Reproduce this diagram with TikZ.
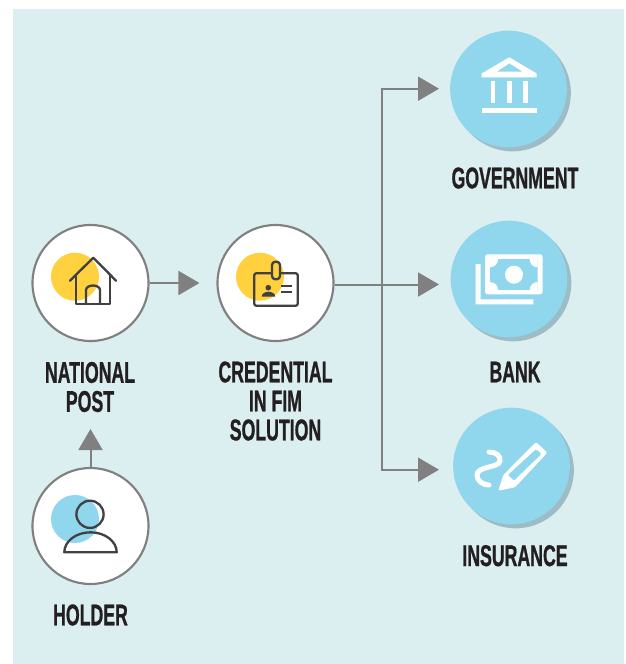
\documentclass[tikz,border=0pt]{standalone}
\usepackage{fontspec}
\usetikzlibrary{arrows.meta}
\newfontfamily\labelfont[FakeStretch=0.59, BoldFeatures={FakeBold=0.8}]{Liberation Sans}
\definecolor{panel}{HTML}{DCEFF0}
\definecolor{flowgrey}{HTML}{808080}
\definecolor{sunny}{HTML}{FFD13F}
\definecolor{sky}{HTML}{90D7EE}
\definecolor{skyshadow}{HTML}{9DBCC6}
\definecolor{iconline}{HTML}{414042}
\definecolor{labeltext}{HTML}{231F20}

\begin{document}
\begin{tikzpicture}[x=0.75pt, y=-0.75pt,
        flow/.style={draw=flowgrey, line width=1.5pt, -{Triangle[length=15.75pt, width=18pt]}},
        whitedisc/.style={circle, draw=flowgrey, line width=1.6pt, fill=white, inner sep=0pt, minimum size=87pt},
        skydisc/.style={circle, fill=sky, inner sep=0pt, minimum size=87.5pt},
        shadowdisc/.style={circle, fill=skyshadow, inner sep=0pt, minimum size=87.5pt},
        stamp/.style={circle, inner sep=0pt, minimum size=36pt},
        iconstroke/.style={draw=iconline, line width=1.75pt, line join=round, line cap=round},
        title/.style={font=\labelfont\bfseries\fontsize{22.5}{21.75}\selectfont, text=labeltext, align=center, inner sep=0pt}]
    \useasboundingbox (0,0) rectangle (625,664);
    \fill[panel] (13,9) rectangle (624,664);

    % white discs
    \node[whitedisc] (national) at (90.5,283) {};
    \node[whitedisc] (credential) at (275.5,283) {};
    \node[whitedisc] (holder) at (90.5,526) {};

    % blue discs with their shadows
    \node[shadowdisc] at (512.5,93) {};
    \node[skydisc] (government) at (508.5,89) {};
    \node[shadowdisc] at (513,283) {};
    \node[skydisc] (bank) at (509,279) {};
    \node[shadowdisc] at (515.5,470) {};
    \node[skydisc] (insurance) at (511.5,466) {};

    % connectors
    \coordinate (fork) at (382,284.5);
    \coordinate (governmentin) at (439,88.7);
    \coordinate (bankin) at (439,284.5);
    \coordinate (insurancein) at (439,469.7);
    \coordinate (holderout) at (90.5,429);
    \draw[flow] (holder.north) -- (holderout);
    \draw[flow, shorten >=12.75pt] (national) -- (credential);
    \draw[flow] (credential.east |- bankin) -- (bankin);
    \draw[flow] (fork) |- (governmentin);
    \draw[flow] (fork) |- (insurancein);

    % house
    \node[stamp, fill=sunny] (housespot) at (75,276.7) {};
    \draw[iconstroke] (70,280.7) -- (93.3,257.7) -- (116,280.7);
    \draw[iconstroke] (76,275) -- (76,304) -- (110,304) -- (110,275);
    \draw[iconstroke] (86,304) -- (86,290) arc (180:360:7 and 4.5) -- (100,304);

    % badge
    \node[stamp, fill=sunny] (badgespot) at (260,276.7) {};
    \draw[iconstroke, rounded corners=1.5pt] (254.3,273.3) rectangle (297.7,305.7);
    \draw[iconstroke, fill=sunny, rounded corners=2.5pt] (272,261.7) rectangle (280,279.3);
    \fill[iconline] (268.3,287.7) circle (2.1pt);
    \fill[iconline] (261.7,296.7) arc (180:360:6.8 and 5) -- cycle;
    \draw[iconstroke, line cap=butt] (281,286) -- (291.7,286);
    \draw[iconstroke, line cap=butt] (281,291.7) -- (291.7,291.7);

    % person
    \node[stamp, fill=sky] (personspot) at (75,519) {};
    \draw[iconstroke] (90,514.3) circle (10.2pt);
    \draw[iconstroke] (64.3,552.3) arc (180:360:26.2 and 20) -- cycle;

    % temple
    \fill[white, even odd rule] (481.7,77.3) -- (481.7,73.5) -- (509.3,57.3) -- (536.7,73.5) -- (536.7,77.3) -- cycle
        (496.7,71.7) -- (509.3,63.3) -- (522.7,71.7) -- cycle;
    \fill[white] (490.7,81) rectangle (495.3,103.3);
    \fill[white] (507.3,81) rectangle (512,103.3);
    \fill[white] (523.3,81) rectangle (528,103.3);
    \fill[white] (481.7,107.7) rectangle (536.7,112.7);

    % banknotes
    \fill[white] (475.7,264) -- (480.7,264) -- (480.7,299.3) -- (533.3,299.3) -- (533.3,304.3) -- (475.7,304.3) -- cycle;
    \fill[white, rounded corners=2pt] (485,254.3) rectangle (542.7,294.3);
    \begin{scope}
        \clip (490,259.3) rectangle (537.7,290);
        \fill[sky] (490,259.3) rectangle (537.7,290);
        \foreach \cornerx in {490,537.7}
            \foreach \cornery in {259.3,290}
                \fill[white] (\cornerx,\cornery) circle (6pt);
    \end{scope}
    \fill[white] (514,274.7) circle (6.75pt);

    % pen and squiggle
    \fill[white, even odd rule, rounded corners=1pt] (498.3,490.7) -- (503.3,475) -- (536,442) -- (547.3,452.7) -- (515,487.3) -- cycle
        (507.7,475) -- (536,449) -- (541.7,454) -- (514,480.7) -- cycle;
    \draw[white, line width=3.75pt, line cap=round] (489,452) .. controls (496,452) and (501,456) .. (500,461) .. controls (499,468) and (477,466) .. (477,475) .. controls (477,481) and (483,485) .. (489,485);

    % labels
    \node[title] (nationallabel) at (90,387) {NATIONAL\\POST};
    \node[title] (credentiallabel) at (275.5,401) {CREDENTIAL\\IN FIM\\SOLUTION};
    \node[title] (holderlabel) at (90.5,615) {HOLDER};
    \node[title] (governmentlabel) at (515,178) {GOVERNMENT};
    \node[title] (banklabel) at (515,372) {BANK};
    \node[title] (insurancelabel) at (515,555.7) {INSURANCE};
\end{tikzpicture}
\end{document}
